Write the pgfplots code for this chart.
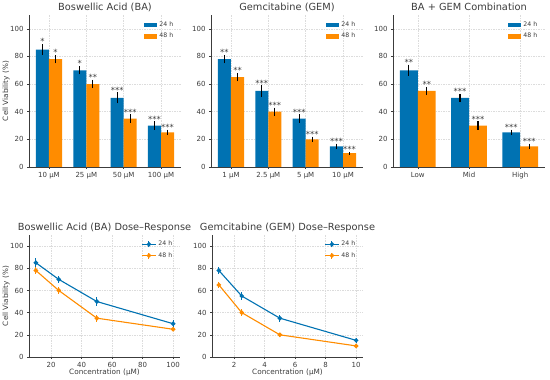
\documentclass[border=0pt]{standalone}
\usepackage{fontspec}
\setmainfont{DejaVu Sans}
\usepackage{pgfplots}
\usepackage{pgfplotstable}
\pgfplotsset{compat=1.18}
\definecolor{cblue}{RGB}{0,114,178}
\definecolor{corange}{RGB}{255,140,0}
\definecolor{txt}{RGB}{60,60,60}
\definecolor{gridc}{RGB}{220,220,220}
\newcommand\fs[1]{\fontsize{#1}{#1}\selectfont}

% Boswellic acid bars (x = group index -/+ 0.175)
\pgfplotstableread{
x y e t s
-0.175 85 4 89 *
0.825 70 3 73 *
1.825 50 4 54 ***
2.825 30 3 33 ***
}\baA
\pgfplotstableread{
x y e t s
0.175 78 3 81 *
1.175 60 3 63 **
2.175 35 3 38 ***
3.175 25 2 27 ***
}\baB
% Gemcitabine bars
\pgfplotstableread{
x y e t s
-0.175 78 3 81 **
0.825 55 4 59 ***
1.825 35 3 38 ***
2.825 15 2 17 ***
}\gemA
\pgfplotstableread{
x y e t s
0.175 65 3 68 **
1.175 40 3 43 ***
2.175 20 2 22 ***
3.175 10 1 11 ***
}\gemB
% Combination bars
\pgfplotstableread{
x y e t s
-0.175 70 4 74 **
0.825 50 3 53 ***
1.825 25 2 27 ***
}\comA
\pgfplotstableread{
x y e t s
0.175 55 3 58 **
1.175 30 3 33 ***
2.175 15 2 17 ***
}\comB
% Dose-response
\pgfplotstableread{
x y e
10 85 4
25 70 3
50 50 4
100 30 3
}\drBAa
\pgfplotstableread{
x y e
10 78 3
25 60 3
50 35 3
100 25 2
}\drBAb
\pgfplotstableread{
x y e
1 78 3
2.5 55 4
5 35 3
10 15 2
}\drGEMa
\pgfplotstableread{
x y e
1 65 3
2.5 40 3
5 20 2
10 10 1
}\drGEMb

\pgfplotsset{
  base/.style={
    scale only axis,
    axis x line*=bottom, axis y line*=left,
    axis line style={line width=0.6pt, color=txt},
    ymin=0, ymax=110, ytick={0,20,...,100},
    xmajorgrids, ymajorgrids,
    grid style={gridc, line width=0.5pt, dash pattern=on 1.5pt off 1pt},
    tick align=outside, major tick length=2pt,
    tick style={txt, line width=0.5pt},
    ticklabel style={font=\fs{7}, text=txt},
    /pgf/number format/assume math mode=true,
    label style={font=\fs{7.3}, text=txt},
    every axis title shift=0pt,
    title style={font=\fs{9.8}, text=txt, at={(0.5,1)}, anchor=base, yshift=4pt},
    legend style={draw=none, fill=none, font=\fs{6.2}, text=txt,
      at={(0.97,0.975)}, anchor=north east, row sep=1pt, inner sep=1pt},
    legend cell align=left,
  },
  barax/.style={base, width=152pt, height=152pt,
    ylabel style={at={(axis description cs:-0.151,0.5)}, anchor=center},
    legend image code/.code={\fill[##1] (0pt,-2.2pt) rectangle (13pt,2.4pt);}},
  lineax/.style={base, width=151pt, height=122pt,
    ylabel style={at={(axis description cs:-0.152,0.5)}, anchor=center},
    xlabel style={at={(axis description cs:0.5,-0.123)}, anchor=center},
    xlabel={Concentration (µM)},
    legend image code/.code={
      \draw[##1, mark=none] (0pt,0pt) -- (14pt,0pt);
      \draw[##1, mark=none] (7pt,-3pt) -- (7pt,3pt);
      \fill[##1] (7pt,0pt) circle (1.7pt);}},
  barplot/.style={ybar, bar width=0.35, bar shift=0pt, draw=none, fill=#1,
    error bars/.cd, y dir=both, y explicit, error mark=none,
    error bar style={line width=1.1pt, black}},
  stars/.style={draw=none, mark=none, forget plot, nodes near coords,
    point meta=explicit symbolic,
    nodes near coords style={anchor=south, font=\fs{8.5}, text=txt, inner sep=0pt, yshift=-1pt}},
  lineplot/.style={color=#1, line width=1.1pt, mark=*, mark size=1.7pt,
    mark options={solid, fill=#1},
    error bars/.cd, y dir=both, y explicit, error mark=none,
    error bar style={line width=0.9pt, #1}},
}

\begin{document}
\begin{tikzpicture}
\useasboundingbox (0,0) rectangle (550pt,380pt);

% Panel 1
\begin{axis}[barax, at={(29pt,213pt)},
  xmin=-0.535, xmax=3.535, xtick={0,1,2,3},
  xticklabels={10 µM, 25 µM, 50 µM, 100 µM},
  ylabel={Cell Viability (\%)},
  title={Boswellic Acid (BA)}]
\addplot[barplot=cblue] table[x=x, y=y, y error=e] {\baA};
\addlegendentry{24 h}
\addplot[barplot=corange] table[x=x, y=y, y error=e] {\baB};
\addlegendentry{48 h}
\addplot[stars] table[x=x, y=t, meta=s] {\baA};
\addplot[stars] table[x=x, y=t, meta=s] {\baB};
\end{axis}

% Panel 2
\begin{axis}[barax, at={(211pt,213pt)},
  xmin=-0.535, xmax=3.535, xtick={0,1,2,3},
  xticklabels={1 µM, 2.5 µM, 5 µM, 10 µM},
  title={Gemcitabine (GEM)}]
\addplot[barplot=cblue] table[x=x, y=y, y error=e] {\gemA};
\addlegendentry{24 h}
\addplot[barplot=corange] table[x=x, y=y, y error=e] {\gemB};
\addlegendentry{48 h}
\addplot[stars] table[x=x, y=t, meta=s] {\gemA};
\addplot[stars] table[x=x, y=t, meta=s] {\gemB};
\end{axis}

% Panel 3
\begin{axis}[barax, at={(393pt,213pt)},
  xmin=-0.485, xmax=2.485, xtick={0,1,2},
  xticklabels={Low, Mid, High},
  title={BA + GEM Combination}]
\addplot[barplot=cblue] table[x=x, y=y, y error=e] {\comA};
\addlegendentry{24 h}
\addplot[barplot=corange] table[x=x, y=y, y error=e] {\comB};
\addlegendentry{48 h}
\addplot[stars] table[x=x, y=t, meta=s] {\comA};
\addplot[stars] table[x=x, y=t, meta=s] {\comB};
\end{axis}

% Panel 4
\begin{axis}[lineax, at={(29pt,23pt)},
  xmin=5.5, xmax=104.5, xtick={20,40,...,100},
  ylabel={Cell Viability (\%)},
  title={Boswellic Acid (BA) Dose–Response}]
\addplot[lineplot=cblue] table[x=x, y=y, y error=e] {\drBAa};
\addlegendentry{24 h}
\addplot[lineplot=corange] table[x=x, y=y, y error=e] {\drBAb};
\addlegendentry{48 h}
\end{axis}

% Panel 5
\begin{axis}[lineax, at={(212pt,23pt)},
  xmin=0.55, xmax=10.45, xtick={2,4,...,10},
  title={Gemcitabine (GEM) Dose–Response}]
\addplot[lineplot=cblue] table[x=x, y=y, y error=e] {\drGEMa};
\addlegendentry{24 h}
\addplot[lineplot=corange] table[x=x, y=y, y error=e] {\drGEMb};
\addlegendentry{48 h}
\end{axis}
\end{tikzpicture}
\end{document}
